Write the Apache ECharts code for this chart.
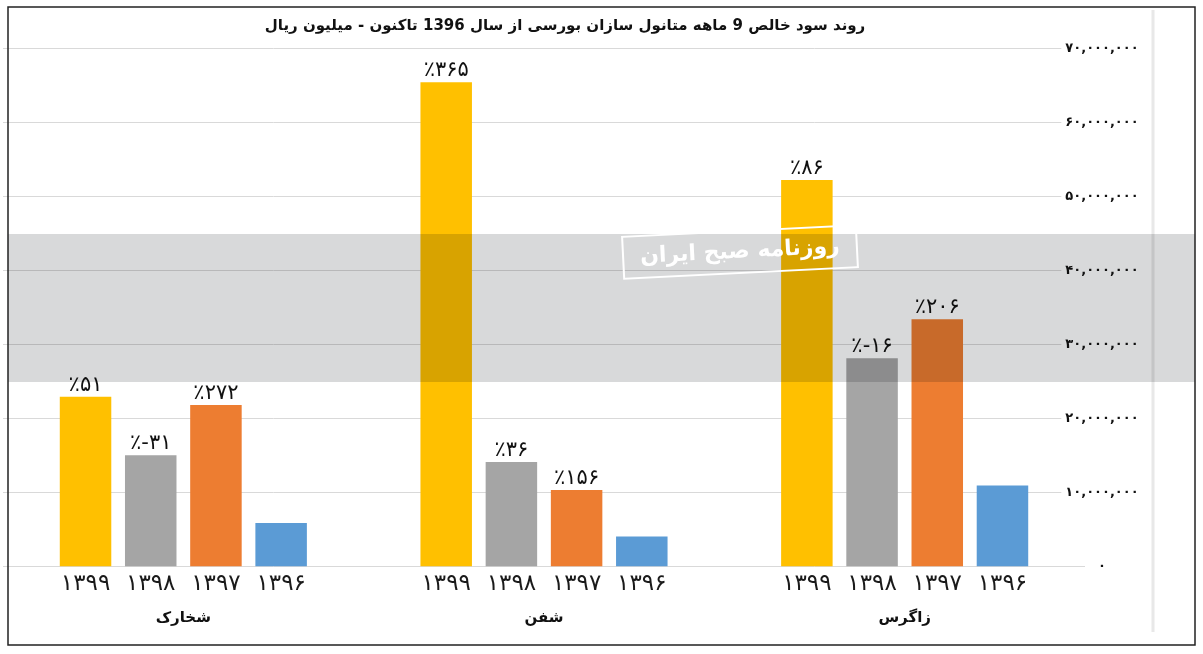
<!DOCTYPE html>
<html>
<head>
<meta charset="utf-8">
<script src="https://cdn.jsdelivr.net/npm/echarts@6/dist/echarts.min.js"></script>
<style>
  html, body { margin: 0; padding: 0; background: #fff; }
  #chart { width: 1203px; height: 654px; }
</style>
</head>
<body>
<div id="chart"></div>
<script>
// companies (groups on the x axis)
const groups = ['شخارک', 'شفن', 'زاگرس'];
// year labels shown under each bar
const years = ['۱۳۹۹', '۱۳۹۸', '۱۳۹۷', '۱۳۹۶'];

// 9-month net profit, million rials
const profit1399 = [22900000, 65400000, 52200000];
const profit1398 = [15000000, 14100000, 28100000];
const profit1397 = [21800000, 10300000, 33400000];
const profit1396 = [5850000, 4020000, 10930000];

// growth labels on top of the bars
const growth1399 = ['٪۵۱', '٪۳۶۵', '٪۸۶'];
const growth1398 = ['٪-۳۱', '٪۳۶', '٪-۱۶'];
const growth1397 = ['٪۲۷۲', '٪۱۵۶', '٪۲۰۶'];
const growth1396 = ['', '', ''];

const colors = ['#FFC000', '#A5A5A5', '#ED7D31', '#5B9BD5'];

const fa = s => String(s).replace(/\d/g, d => '۰۱۲۳۴۵۶۷۸۹'[d]);
const fmtAxis = v => fa(v.toLocaleString('en-US'));

const values = [profit1399, profit1398, profit1397, profit1396];
const growth = [growth1399, growth1398, growth1397, growth1396];

const series = [];
years.forEach((y, i) => {
  // zero-height helper carrying the year label under each bar
  series.push({
    type: 'bar',
    stack: 's' + i,
    barWidth: 51.5,
    barGap: '26.6%',
    data: groups.map(() => 0),
    itemStyle: { color: colors[i] },
    label: {
      show: true,
      position: 'bottom',
      distance: 6,
      formatter: () => y,
      fontFamily: 'DejaVu Sans',
      fontSize: 23,
      color: '#1a1a1a'
    },
    silent: true
  });
  series.push({
    type: 'bar',
    name: y,
    stack: 's' + i,
    barWidth: 51.5,
    barGap: '26.6%',
    data: values[i],
    itemStyle: { color: colors[i] },
    label: {
      show: true,
      position: 'top',
      distance: 1,
      formatter: p => growth[i][p.dataIndex],
      fontFamily: 'DejaVu Sans',
      fontSize: 21,
      color: '#111'
    }
  });
});

const chart = echarts.init(document.getElementById('chart'));
chart.setOption({
  animation: false,
  backgroundColor: '#fff',
  title: {
    text: 'روند سود خالص 9 ماهه متانول سازان بورسی از سال 1396 تاکنون - میلیون ریال',
    left: 560,
    top: 14,
    textAlign: 'center',
    textStyle: { fontFamily: 'DejaVu Sans', fontSize: 15, fontWeight: 'bold', color: '#111' }
  },
  grid: { left: 3, right: 118, top: 48.3, bottom: 87.7 },
  xAxis: {
    type: 'category',
    data: groups,
    axisLine: { show: false },
    axisTick: { show: false },
    axisLabel: {
      margin: 44,
      fontFamily: 'DejaVu Sans',
      fontSize: 15,
      fontWeight: 'bold',
      color: '#111'
    }
  },
  yAxis: {
    type: 'value',
    position: 'right',
    min: 0,
    max: 70000000,
    interval: 10000000,
    axisLine: { show: false },
    axisTick: { show: false },
    splitLine: { lineStyle: { color: '#d9d9d9', width: 1 } },
    axisLabel: {
      margin: 17,
      align: 'center',
      formatter: fmtAxis,
      fontFamily: 'DejaVu Sans',
      fontSize: 13,
      fontWeight: 'bold',
      color: '#111',
      backgroundColor: '#fff',
      padding: [0, 4]
    }
  },
  series: series,
  graphic: [
    {
      type: 'rect',
      z: 100,
      shape: { x: 8, y: 234, width: 1187, height: 148 },
      style: { fill: '#d8d9da', blend: 'multiply' },
      silent: true
    },
    {
      type: 'rect',
      z: 102,
      x: 740,
      y: 252,
      rotation: 0.05,
      shape: { x: -117, y: -21, width: 234, height: 42 },
      style: { fill: 'none', stroke: '#fff', lineWidth: 2 },
      silent: true
    },
    {
      type: 'text',
      z: 102,
      x: 740,
      y: 252,
      rotation: 0.05,
      style: {
        text: 'روزنامه صبح ایران',
        font: 'bold 22px "DejaVu Sans"',
        textAlign: 'center',
        textVerticalAlign: 'middle',
        fill: '#fff'
      },
      silent: true
    },
    {
      type: 'line',
      z: 90,
      shape: { x1: 1153, y1: 10, x2: 1153, y2: 632 },
      style: { stroke: '#e8e8e8', lineWidth: 3 },
      silent: true
    },
    {
      type: 'rect',
      z: 110,
      shape: { x: 8, y: 7, width: 1187, height: 638 },
      style: { fill: 'none', stroke: '#222', lineWidth: 1.5 },
      silent: true
    }
  ]
});
window.addEventListener('resize', () => chart.resize());
</script>
</body>
</html>
